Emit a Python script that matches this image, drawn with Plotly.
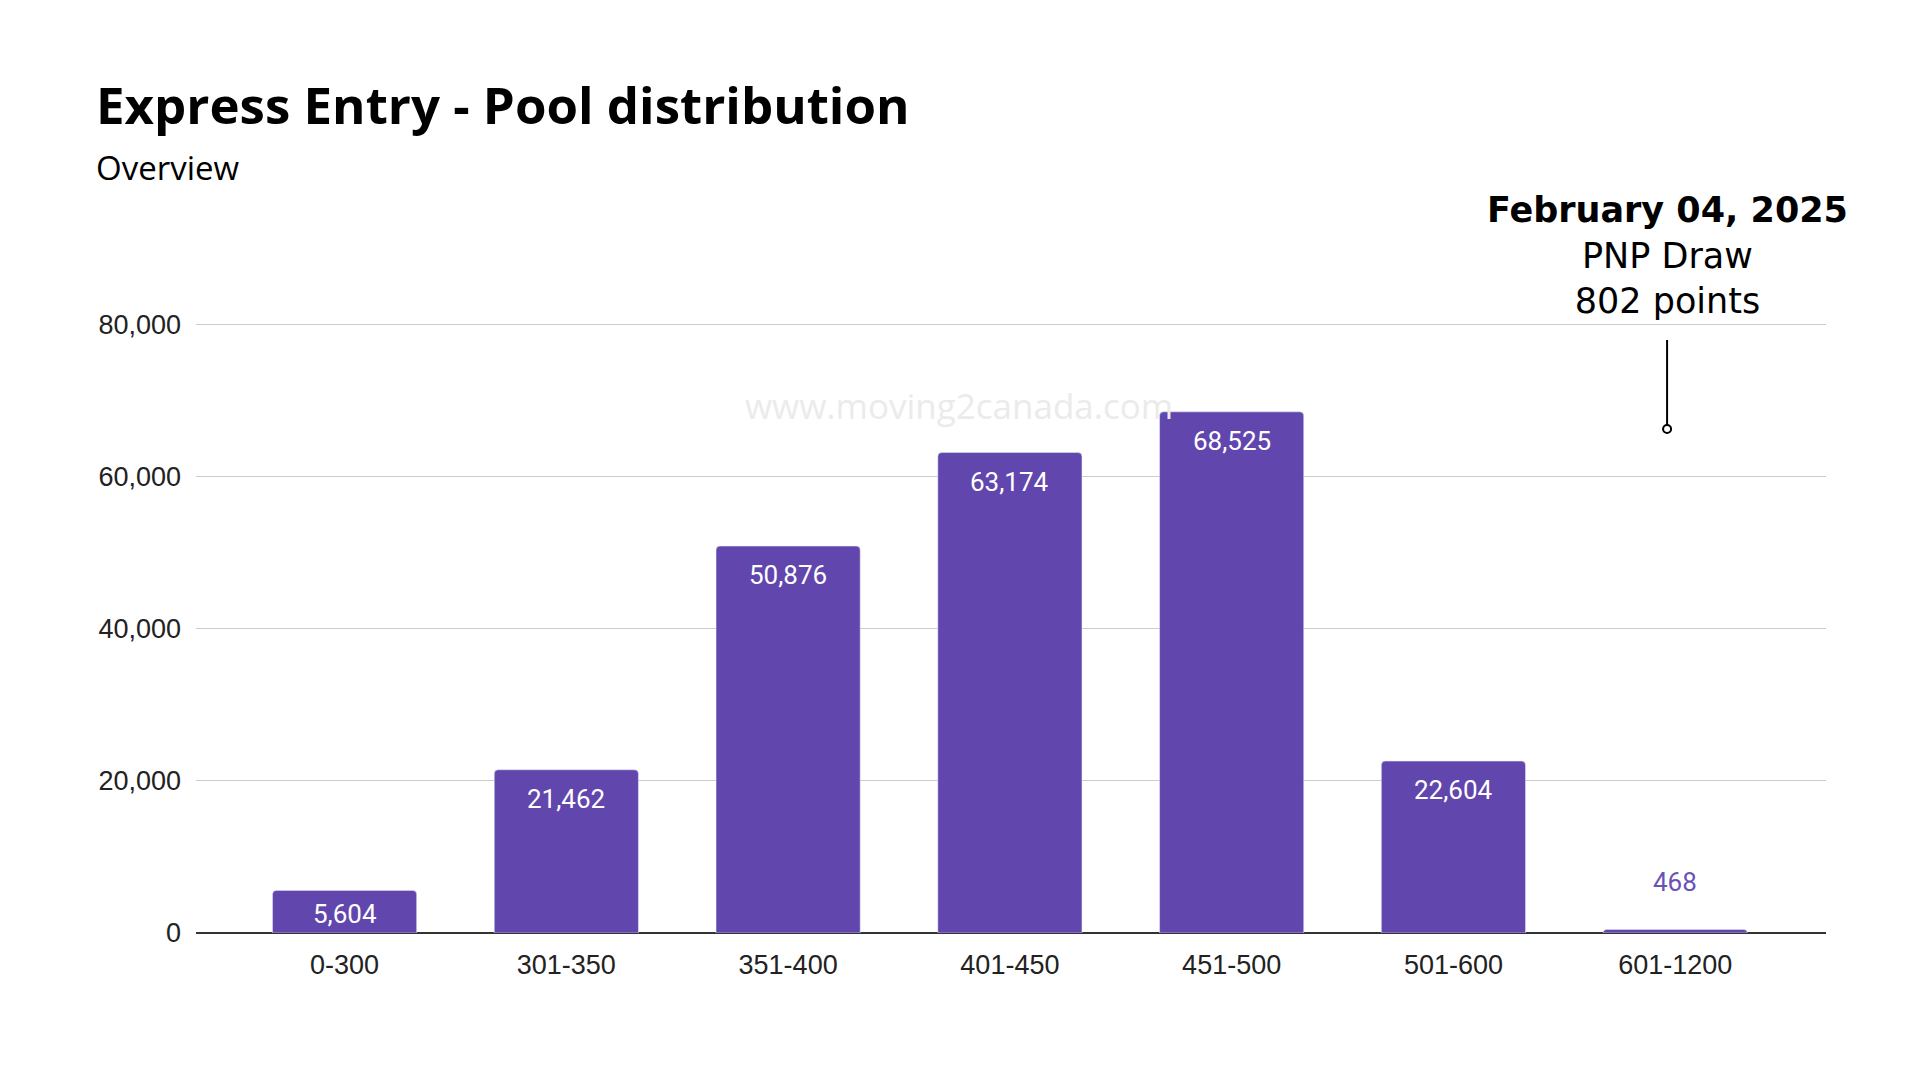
import plotly.graph_objects as go

# score bands and candidate counts
categories = ["0-300", "301-350", "351-400", "401-450", "451-500", "501-600", "601-1200"]
counts = [5604, 21462, 50876, 63174, 68525, 22604, 468]
y_ticks = [0, 20000, 40000, 60000, 80000]

bar_color = "#6146ae"
y_top = 81000
plot_h = 616  # plot area height in px

fig = go.Figure()
fig.add_trace(go.Bar(
    x=categories, y=counts,
    marker=dict(color=bar_color, cornerradius=4),
    hoverinfo="x+y",
))

# value labels: inside near the top for tall bars, above the bar for tiny ones
for cat, c in zip(categories, counts):
    bar_px = c / y_top * plot_h
    if bar_px > 20:
        shift = -min(29, 0.55 * bar_px)
        col = "#ffffff"
    else:
        shift = 47
        col = "#6a52b8"
    fig.add_annotation(x=cat, y=c, text=f"{c:,}", showarrow=False, yanchor="middle",
                       yshift=shift, font=dict(family="Roboto", size=26, color=col))

fig.update_layout(
    width=1920, height=1080,
    margin=dict(l=188, r=102, t=309, b=155),
    plot_bgcolor="white", paper_bgcolor="white",
    bargap=0.35,
    showlegend=False,
    font=dict(family="Liberation Sans", color="#222222"),
)
fig.update_xaxes(
    range=[-0.67, 6.68], showgrid=False, showline=False, ticks="",
    tickfont=dict(family="Liberation Sans", size=27, color="#222222"),
    ticklabelstandoff=13,
)
fig.update_yaxes(
    range=[0, y_top], tickvals=y_ticks, tickformat=",",
    showgrid=True, gridcolor="#cccccc", gridwidth=1,
    zeroline=True, zerolinecolor="#333333", zerolinewidth=2,
    tickfont=dict(family="Liberation Sans", size=27, color="#222222"),
    ticklabelstandoff=14,
)

# title, subtitle, watermark
fig.add_annotation(text="<b>Express Entry - Pool distribution</b>", xref="paper", yref="paper",
                   x=-0.0626, y=1.3458, xanchor="left", yanchor="middle", showarrow=False,
                   font=dict(family="Open Sans", size=51, color="#000000"))
fig.add_annotation(text="Overview", xref="paper", yref="paper",
                   x=-0.0626, y=1.2435, xanchor="left", yanchor="middle", showarrow=False,
                   font=dict(family="Open Sans", size=33, color="#000000"))
fig.add_annotation(text="www.moving2canada.com", xref="paper", yref="paper",
                   x=0.468, y=0.8571, xanchor="center", yanchor="middle", showarrow=False,
                   font=dict(family="Open Sans", size=35, color="#ebebeb"))

# draw callout
fig.add_annotation(text="<b>February 04, 2025</b><br>PNP Draw<br>802 points", xref="paper", yref="paper",
                   x=0.9025, y=1.1006, xanchor="center", yanchor="middle", showarrow=False,
                   font=dict(family="DejaVu Sans", size=35, color="#000000"))

fig.add_shape(type="line", xref="paper", yref="paper", x0=0.9025, x1=0.9025, y0=0.9627, y1=0.8247,
              line=dict(color="#000000", width=2))
fig.add_shape(type="circle", xref="paper", yref="paper", xsizemode="pixel", ysizemode="pixel",
              xanchor=0.9025, yanchor=0.8182, x0=-4, x1=4, y0=-4, y1=4,
              line=dict(color="#000000", width=2), fillcolor="white")

fig.write_html("out.html")
